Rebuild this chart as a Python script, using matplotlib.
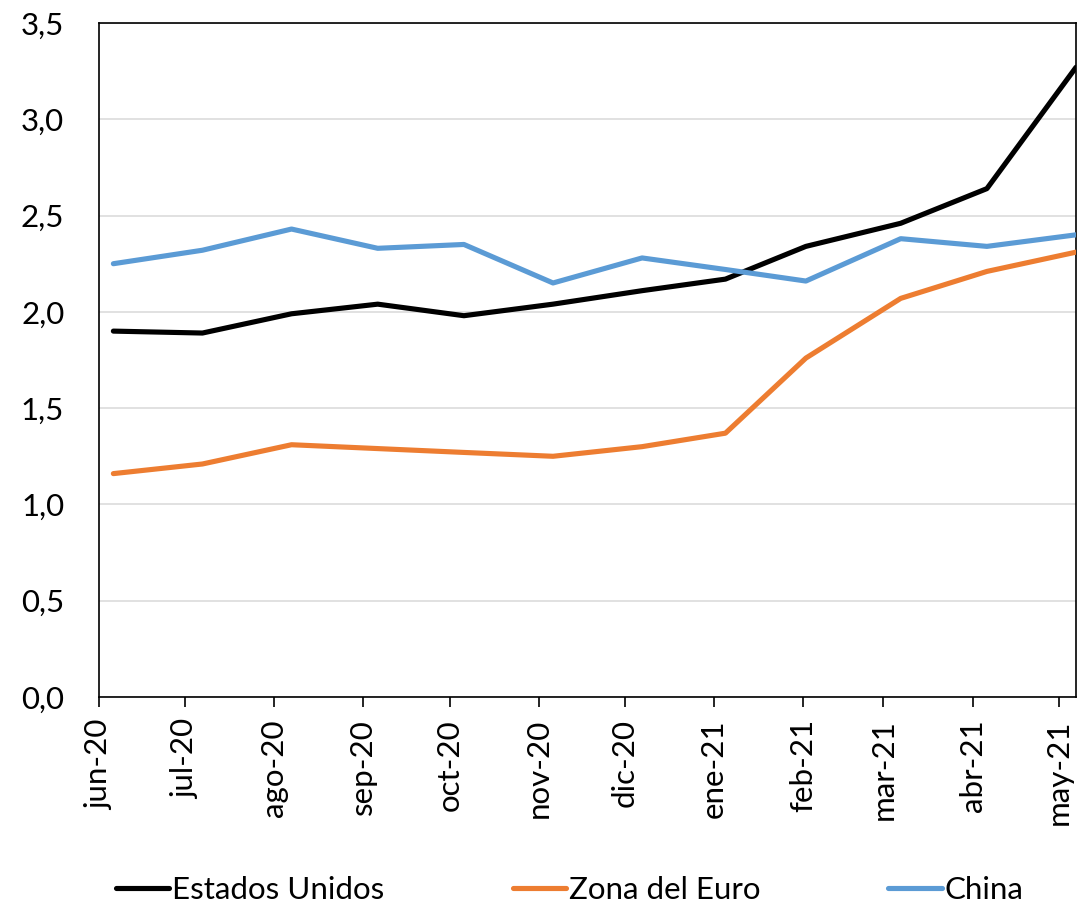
import matplotlib
matplotlib.use("Agg")
import matplotlib.pyplot as plt
import numpy as np
import pandas as pd
from matplotlib.ticker import FuncFormatter

plt.rcParams['font.family'] = ['Lato', 'DejaVu Sans']

# Data
dates = pd.to_datetime([
    "2020-06-06", "2020-07-07", "2020-08-07", "2020-09-06", "2020-10-06", "2020-11-06",
    "2020-12-07", "2021-01-05", "2021-02-02", "2021-03-07", "2021-04-06", "2021-05-07",
])
estados_unidos = [1.90, 1.89, 1.99, 2.04, 1.98, 2.04, 2.11, 2.17, 2.34, 2.46, 2.64, 3.27]
zona_euro = [1.16, 1.21, 1.31, 1.29, 1.27, 1.25, 1.30, 1.37, 1.76, 2.07, 2.21, 2.31]
china = [2.25, 2.32, 2.43, 2.33, 2.35, 2.15, 2.28, 2.22, 2.16, 2.38, 2.34, 2.40]

tick_dates = pd.date_range("2020-06-01", "2021-05-01", freq="MS")
tick_labels = ["jun-20", "jul-20", "ago-20", "sep-20", "oct-20", "nov-20",
               "dic-20", "ene-21", "feb-21", "mar-21", "abr-21", "may-21"]

fig = plt.figure(figsize=(10.79, 9.06), dpi=100)
ax = fig.add_axes([99 / 1079, 1 - 697 / 906, (1076 - 99) / 1079, (697 - 23) / 906])

lw = 3.7
ax.plot(dates, estados_unidos, color="black", lw=lw, label="Estados Unidos", zorder=3,
        solid_capstyle="round", solid_joinstyle="round")
ax.plot(dates, zona_euro, color="#ED7D31", lw=lw, label="Zona del Euro", zorder=3,
        solid_capstyle="round", solid_joinstyle="round")
ax.plot(dates, china, color="#5B9BD5", lw=lw, label="China", zorder=3,
        solid_capstyle="round", solid_joinstyle="round")

ax.set_xlim(pd.Timestamp("2020-06-01"), dates[-1])
ax.set_ylim(0, 3.5)
ax.set_yticks(np.arange(0, 3.51, 0.5))
ax.yaxis.set_major_formatter(FuncFormatter(lambda v, p: f"{v:.1f}".replace(".", ",")))
ax.yaxis.grid(True, color="#D9D9D9", lw=1.1, zorder=0)
ax.set_axisbelow(True)

ax.set_xticks(tick_dates)
ax.set_xticklabels(tick_labels, rotation=90)

ax.tick_params(axis="y", length=0, pad=25, labelsize=22.5)
ax.tick_params(axis="x", length=7, width=1.2, pad=9, labelsize=22.5, direction="out")

for s in ax.spines.values():
    s.set_color("black")
    s.set_linewidth(1.2)

handles, labels = ax.get_legend_handles_labels()
leg = fig.legend(handles, labels, loc="center", bbox_to_anchor=(0.528, 0.018), ncol=3,
                 frameon=False, fontsize=22.5, handlelength=1.7, handletextpad=0.1,
                 columnspacing=4.1, borderaxespad=0, borderpad=0)

fig.savefig("out.png", dpi=100)
